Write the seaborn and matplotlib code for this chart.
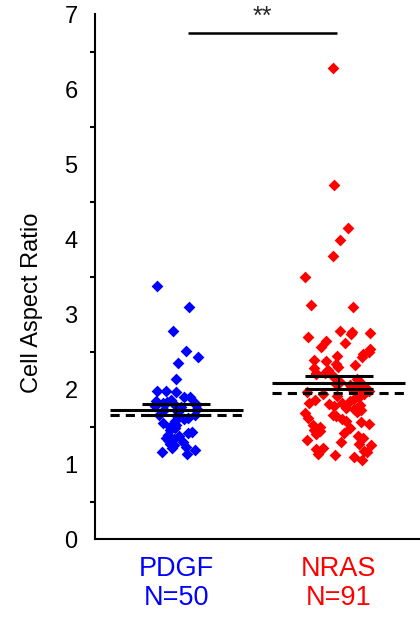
import numpy as np
import pandas as pd
import matplotlib
matplotlib.use("Agg")
import matplotlib.pyplot as plt
import seaborn as sns

# Cell aspect ratio measurements per condition
pdgf_values = [
    3.37, 3.10, 2.77, 2.51, 2.43, 2.35, 2.14,
    1.98, 1.97, 1.96, 1.90, 1.89, 1.86, 1.84, 1.83, 1.82, 1.81, 1.80,
    1.79, 1.78, 1.76, 1.74, 1.72, 1.70,
    1.66, 1.65, 1.64, 1.62, 1.60, 1.57, 1.55, 1.52, 1.50, 1.48, 1.45,
    1.43, 1.41, 1.39, 1.37, 1.35, 1.33, 1.31, 1.29, 1.27, 1.25, 1.23,
    1.21, 1.19, 1.16, 1.14,
]
nras_values = [
    6.28, 4.72, 4.15, 3.99, 3.78, 3.49, 3.12, 3.09,
    2.78, 2.76, 2.75, 2.73, 2.69, 2.64, 2.61, 2.56, 2.54, 2.49, 2.47,
    2.44, 2.43, 2.39, 2.37, 2.34, 2.32, 2.30, 2.28, 2.26, 2.24, 2.22, 2.20,
    2.17, 2.15, 2.13, 2.11, 2.09, 2.07, 2.05, 2.03, 2.02,
    1.98, 1.97, 1.96, 1.94, 1.93, 1.91, 1.89, 1.87, 1.86,
    1.84, 1.82, 1.80, 1.79, 1.77, 1.75, 1.73, 1.72, 1.70, 1.68, 1.66,
    1.64, 1.62, 1.60,
    1.58, 1.56, 1.54, 1.52, 1.50, 1.48, 1.46, 1.44, 1.42, 1.40,
    1.38, 1.35, 1.32, 1.29, 1.27, 1.25, 1.22, 1.20, 1.18, 1.16, 1.14,
    1.12, 1.10, 1.05,
    2.22, 2.05, 1.95, 1.81,
]
groups = ["PDGF", "NRAS"]
tick_labels = ["PDGF\nN=50", "NRAS\nN=91"]
group_colors = ["#0000ff", "#ff0000"]
group_jitter = [0.14, 0.21]
y_ticks = [0, 1, 2, 3, 4, 5, 6, 7]
significance = "**"

df = pd.DataFrame({
    "group": ["PDGF"] * len(pdgf_values) + ["NRAS"] * len(nras_values),
    "ratio": pdgf_values + nras_values,
})

sns.set_theme(style="white")
plt.rcParams["font.family"] = ["Liberation Sans", "DejaVu Sans"]

fig = plt.figure(figsize=(4.2, 6.21), dpi=100)
ax = fig.add_axes([0.226, 0.132, 0.774, 0.845])

np.random.seed(7)
for g, c, jit in zip(groups, group_colors, group_jitter):
    sns.stripplot(data=df[df["group"] == g], x="group", y="ratio",
                  order=groups, color=c, marker="D", size=6, jitter=jit,
                  linewidth=0, ax=ax, zorder=2)

# mean (solid), SEM caps and median (dashed) for each group
for i, g in enumerate(groups):
    v = df.loc[df["group"] == g, "ratio"].to_numpy()
    mean = v.mean()
    sem = v.std(ddof=1) / np.sqrt(len(v))
    med = np.median(v)
    ax.hlines(mean, i - 0.41, i + 0.41, color="black", lw=2.2, zorder=5)
    ax.hlines(med, i - 0.41, i + 0.41, color="black", lw=2.2,
              linestyles=(0, (3, 2)), zorder=5)
    ax.vlines(i, mean - sem, mean + sem, color="black", lw=1.5, zorder=5)
    ax.hlines([mean - sem, mean + sem], i - 0.21, i + 0.21, color="black",
              lw=2.2, zorder=5)

# significance bracket
ax.hlines(6.75, 0.07, 0.99, color="black", lw=1.8, zorder=5, clip_on=False)
ax.text(0.53, 6.97, significance, ha="center", va="center", fontsize=18,
        clip_on=False)

ax.set_xlim(-0.5, 1.5)
ax.set_ylim(0, 7)
ax.set_yticks(y_ticks)
ax.set_yticks(np.arange(0.5, 7, 1.0), minor=True)
ax.set_xticks([0, 1])
ax.set_xticklabels(tick_labels)
ax.set_xlabel("")
ax.set_ylabel("Cell Aspect Ratio", fontsize=17, color="black")
ax.yaxis.set_label_coords(-0.16, 0.451)

for side in ["top", "right"]:
    ax.spines[side].set_visible(False)
for side in ["left", "bottom"]:
    ax.spines[side].set_color("black")
    ax.spines[side].set_linewidth(1.5)

ax.tick_params(axis="both", which="major", direction="out", length=7,
               width=1.5, colors="black")
ax.tick_params(axis="y", which="major", labelsize=17, pad=5.5)
ax.tick_params(axis="x", which="major", labelsize=19.5, pad=5)
ax.tick_params(axis="y", which="minor", direction="out", length=3.5,
               width=1.5, colors="black", left=True)
for lab, c in zip(ax.get_xticklabels(), group_colors):
    lab.set_color(c)
    lab.set_linespacing(1.15)

fig.savefig("out.png", dpi=100)
